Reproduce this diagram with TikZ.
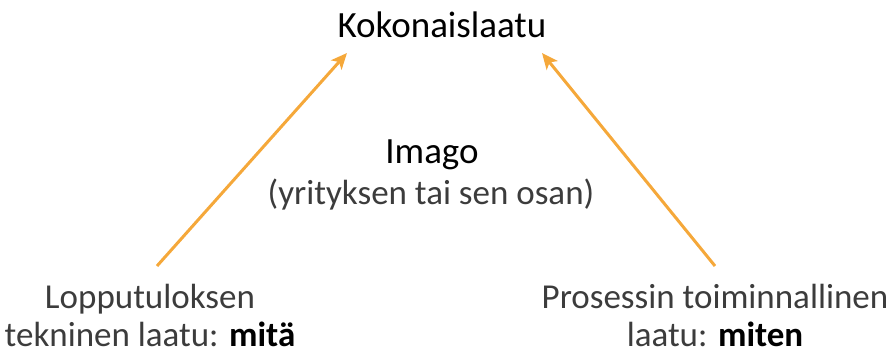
\documentclass[tikz,border=0pt]{standalone}
\usepackage{fontspec}
\setmainfont{Carlito}
\usetikzlibrary{arrows.meta}
\definecolor{arroworange}{HTML}{F5A83A}
\definecolor{bodytext}{HTML}{3C3C3C}
\newcommand{\keyword}[1]{\textcolor{black}{\textbf{#1}}}
\tikzset{
  label text/.style={font=\fontsize{35}{38}\selectfont, text=bodytext, align=center, inner sep=0pt},
  title text/.style={font=\fontsize{37}{40}\selectfont, text=black, inner sep=0pt},
  quality arrow/.style={draw=arroworange, line width=3pt, -{Stealth[length=16pt,width=14pt,inset=4pt]}}
}
\begin{document}
\begin{tikzpicture}[x=1pt,y=-1pt]
  \useasboundingbox (0,0) rectangle (891,356);
  \node[title text] (total) at (442,25) {Kokonaislaatu};
  \node[title text] (image) at (432,155) {Imago};
  \node[label text] (scope) at (431,195) {(yrityksen tai sen osan)};
  \node[label text] (result) at (150,315) {Lopputuloksen\\tekninen laatu: \keyword{mitä}};
  \node[label text] (process) at (715,315) {Prosessin toiminnallinen\\laatu: \keyword{miten}};
  \coordinate (lstart) at (157,266);
  \coordinate (lend) at (347,53);
  \coordinate (rstart) at (715,266);
  \coordinate (rend) at (542,53);
  \draw[quality arrow] (lstart) -- (lend);
  \draw[quality arrow] (rstart) -- (rend);
\end{tikzpicture}
\end{document}
